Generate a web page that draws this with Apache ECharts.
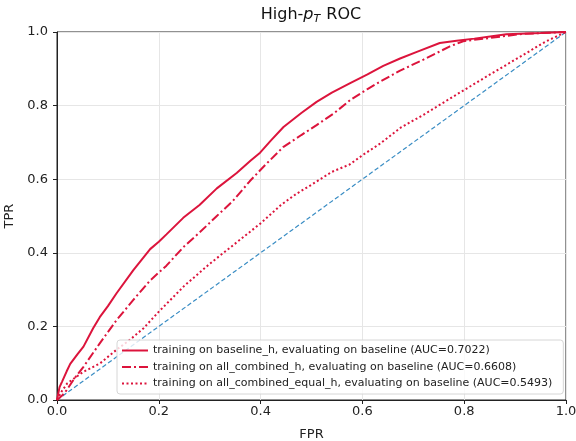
<!DOCTYPE html>
<html>
<head>
<meta charset="utf-8">
<script src="https://cdn.jsdelivr.net/npm/echarts@6/dist/echarts.min.js"></script>
<style>
html,body{margin:0;padding:0;background:#fff;}
#chart{width:576px;height:441px;}
</style>
</head>
<body>
<div id="chart"></div>
<script>
// ---- data ----
const tickValues = [0.0, 0.2, 0.4, 0.6, 0.8, 1.0];

const seriesNames = [
  'training on baseline_h, evaluating on baseline (AUC=0.7022)',
  'training on all_combined_h, evaluating on baseline (AUC=0.6608)',
  'training on all_combined_equal_h, evaluating on baseline (AUC=0.5493)'
];

const fprBaseline = [0, 0.005, 0.01, 0.019, 0.026, 0.04, 0.052, 0.071, 0.084, 0.1, 0.117, 0.15, 0.183, 0.2, 0.215, 0.248, 0.28, 0.314, 0.353, 0.38, 0.399, 0.42, 0.445, 0.48, 0.51, 0.54, 0.576, 0.61, 0.641, 0.674, 0.707, 0.752, 0.785, 0.82, 0.851, 0.883, 0.95, 1.0];
const tprBaseline = [0, 0.035, 0.05, 0.078, 0.098, 0.124, 0.145, 0.195, 0.225, 0.255, 0.29, 0.353, 0.41, 0.43, 0.45, 0.495, 0.53, 0.575, 0.617, 0.65, 0.672, 0.705, 0.742, 0.78, 0.81, 0.835, 0.861, 0.885, 0.908, 0.928, 0.946, 0.97, 0.976, 0.982, 0.988, 0.994, 0.997, 1.0];

const fprCombined = [0, 0.01, 0.019, 0.035, 0.052, 0.084, 0.117, 0.15, 0.183, 0.215, 0.248, 0.28, 0.314, 0.345, 0.379, 0.41, 0.445, 0.48, 0.51, 0.545, 0.576, 0.61, 0.641, 0.674, 0.72, 0.772, 0.798, 0.851, 0.916, 1.0];
const tprCombined = [0, 0.012, 0.027, 0.06, 0.09, 0.154, 0.217, 0.272, 0.325, 0.365, 0.415, 0.455, 0.5, 0.54, 0.595, 0.64, 0.688, 0.72, 0.747, 0.78, 0.815, 0.845, 0.87, 0.895, 0.925, 0.961, 0.975, 0.984, 0.995, 1.0];

const fprEqual = [0, 0.01, 0.02, 0.05, 0.085, 0.12, 0.14, 0.17, 0.2, 0.25, 0.3, 0.35, 0.4, 0.44, 0.47, 0.5, 0.54, 0.575, 0.6, 0.635, 0.675, 0.72, 0.785, 0.85, 0.915, 0.96, 1.0];
const tprEqual = [0, 0.025, 0.045, 0.075, 0.10, 0.14, 0.16, 0.195, 0.24, 0.31, 0.37, 0.425, 0.48, 0.53, 0.56, 0.585, 0.62, 0.64, 0.665, 0.697, 0.74, 0.775, 0.83, 0.884, 0.937, 0.974, 1.0];

const fprChance = [0, 1];
const tprChance = [0, 1];

function pairs(xs, ys) { return xs.map((x, i) => [x, ys[i]]); }

const FONT = 'DejaVu Sans';
const RED = '#dc143c';

const chart = echarts.init(document.getElementById('chart'), null, {renderer: 'canvas'});
chart.setOption({
  animation: false,
  backgroundColor: '#fff',
  title: {
    text: '{n|High-}{i|p}{s|T}{n| ROC}',
    left: 306,
    textAlign: 'center',
    top: 0,
    textStyle: {
      fontFamily: FONT,
      fontSize: 16,
      fontWeight: 'normal',
      color: '#111',
      rich: {
        n: {fontFamily: FONT, fontSize: 16, color: '#111', lineHeight: 20},
        i: {fontFamily: FONT, fontSize: 16, fontStyle: 'italic', color: '#111', lineHeight: 20},
        s: {fontFamily: FONT, fontSize: 11, fontStyle: 'italic', color: '#111', lineHeight: 20, padding: [8, 1, 0, 0]}
      }
    }
  },
  grid: {
    left: 57, right: 10, top: 32, bottom: 41,
    outerBoundsMode: 'none',
    containLabel: false,
    show: true, borderColor: '#222', borderWidth: 1, backgroundColor: 'transparent'
  },
  legend: {
    data: seriesNames,
    orient: 'vertical',
    left: 117,
    top: 340,
    itemWidth: 26,
    itemHeight: 10,
    itemGap: 5.5,
    padding: [5, 11, 5, 4],
    backgroundColor: 'rgba(255,255,255,0.8)',
    borderColor: '#d6d6d6',
    borderWidth: 1,
    borderRadius: 3,
    itemStyle: {opacity: 0},
    textStyle: {fontFamily: FONT, fontSize: 11, color: '#222'}
  },
  xAxis: {
    type: 'value', min: 0, max: 1, interval: 0.2,
    name: 'FPR', nameLocation: 'middle', nameGap: 28,
    nameTextStyle: {fontFamily: FONT, fontSize: 13, color: '#222'},
    axisLine: {show: true, lineStyle: {color: '#222', width: 1}},
    axisTick: {show: true, inside: false, length: 4, lineStyle: {color: '#222'}},
    axisLabel: {fontFamily: FONT, fontSize: 13, color: '#222', margin: 5,
      formatter: v => tickValues.includes(Math.round(v * 10) / 10) ? v.toFixed(1) : ''},
    splitLine: {show: true, lineStyle: {color: '#e6e6e6', width: 1}}
  },
  yAxis: {
    type: 'value', min: 0, max: 1, interval: 0.2,
    name: 'TPR', nameLocation: 'middle', nameGap: 36,
    nameTextStyle: {fontFamily: FONT, fontSize: 13, color: '#222'},
    axisLine: {show: true, lineStyle: {color: '#222', width: 1}},
    axisTick: {show: true, inside: false, length: 4, lineStyle: {color: '#222'}},
    axisLabel: {fontFamily: FONT, fontSize: 13, color: '#222', margin: 9,
      formatter: v => v.toFixed(1)},
    splitLine: {show: true, lineStyle: {color: '#e6e6e6', width: 1}}
  },
  series: [
    {
      name: 'chance', type: 'line', data: pairs(fprChance, tprChance),
      symbol: 'none', silent: true, z: 1,
      lineStyle: {color: '#3a8dc4', width: 1.2, type: [4.5, 2.5]}
    },
    {
      name: seriesNames[0], type: 'line', data: pairs(fprBaseline, tprBaseline),
      symbol: 'none', z: 3, color: RED,
      lineStyle: {color: RED, width: 2, type: 'solid'}
    },
    {
      name: seriesNames[1], type: 'line', data: pairs(fprCombined, tprCombined),
      symbol: 'none', z: 3, color: RED,
      lineStyle: {color: RED, width: 2, type: [9, 3, 2, 3]}
    },
    {
      name: seriesNames[2], type: 'line', data: pairs(fprEqual, tprEqual),
      symbol: 'none', z: 3, color: RED,
      lineStyle: {color: RED, width: 2, type: [2, 2.5]}
    }
  ]
});
</script>
</body>
</html>
